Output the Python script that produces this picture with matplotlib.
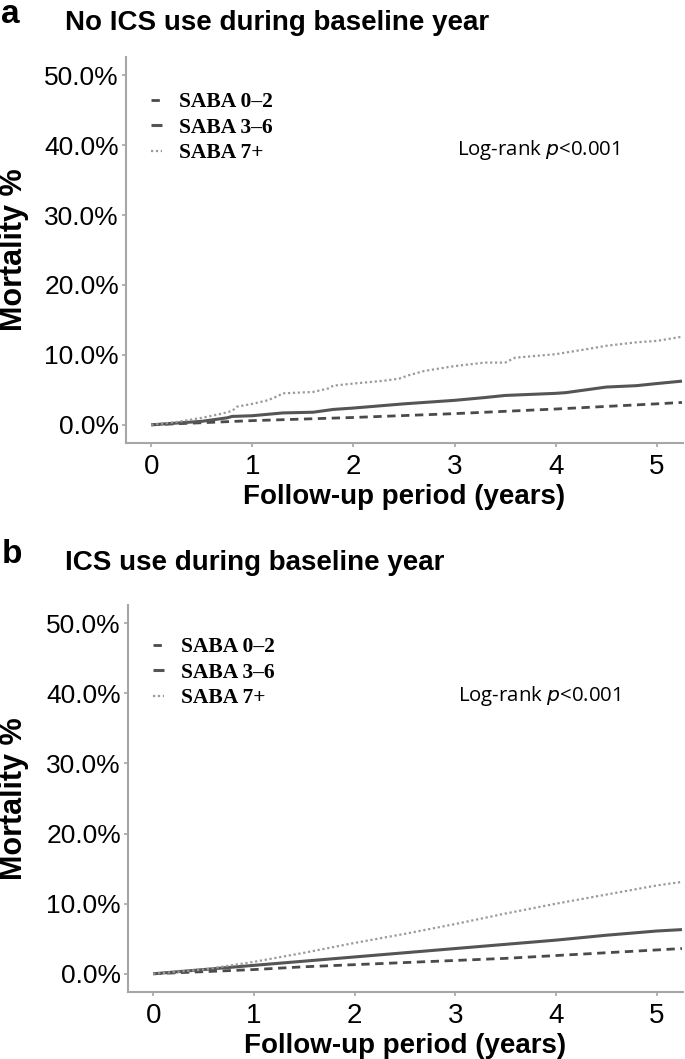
import matplotlib
matplotlib.use("Agg")
import matplotlib.pyplot as plt
from matplotlib.font_manager import FontProperties

# ---------------- data ----------------
panel_letters = ["a", "b"]
panel_titles = ["No ICS use during baseline year", "ICS use during baseline year"]
series_labels = ["SABA 0\u20132", "SABA 3\u20136", "SABA 7+"]
y_ticks = [0, 10, 20, 30, 40, 50]
y_ticklabels = ["0.0%", "10.0%", "20.0%", "30.0%", "40.0%", "50.0%"]
x_ticks = [0, 1, 2, 3, 4, 5]
x_label = "Follow-up period (years)"
y_label = "Mortality %"
annot = "Log-rank $p$<0.001"

# panel a (no ICS)
a_t_low = [0, 0.5, 1, 2, 3, 4, 5, 5.25]
a_v_low = [0, 0.3, 0.6, 1.05, 1.6, 2.26, 3.0, 3.2]
a_t_mid = [0, 0.5, 0.75, 0.8, 1.0, 1.3, 1.6, 1.8, 2.0, 2.5, 3.0, 3.3, 3.5, 4.0, 4.1, 4.5, 4.8, 5.0, 5.25]
a_v_mid = [0, 0.5, 1.0, 1.2, 1.3, 1.7, 1.8, 2.2, 2.4, 3.0, 3.5, 3.9, 4.2, 4.5, 4.6, 5.4, 5.6, 5.9, 6.25]
a_t_high = [0, 0.25, 0.5, 0.7, 0.8, 0.85, 1.0, 1.15, 1.25, 1.3, 1.6, 1.75, 1.8, 2.0, 2.3, 2.45,
            2.55, 2.7, 3.0, 3.3, 3.5, 3.6, 4.0, 4.3, 4.5, 4.8, 5.0, 5.25]
a_v_high = [0, 0.4, 1.0, 1.6, 2.0, 2.6, 3.0, 3.5, 4.1, 4.5, 4.7, 5.2, 5.6, 5.9, 6.3, 6.6,
            7.1, 7.7, 8.4, 8.9, 8.9, 9.6, 10.1, 10.8, 11.3, 11.8, 12.0, 12.6]

# panel b (ICS)
b_t = [0, 0.5, 1, 1.5, 2, 2.5, 3, 3.5, 4, 4.5, 5, 5.25]
b_v_low = [0, 0.3, 0.6, 1.0, 1.3, 1.6, 1.9, 2.2, 2.6, 3.0, 3.4, 3.6]
b_v_mid = [0, 0.6, 1.2, 1.8, 2.4, 3.0, 3.6, 4.2, 4.8, 5.5, 6.1, 6.3]
b_v_high = [0, 0.6, 1.7, 3.0, 4.4, 5.7, 7.1, 8.6, 10.0, 11.3, 12.6, 13.1]

panels = [
    [(a_t_low, a_v_low), (a_t_mid, a_v_mid), (a_t_high, a_v_high)],
    [(b_t, b_v_low), (b_t, b_v_mid), (b_t, b_v_high)],
]

# ---------------- style ----------------
line_styles = [
    dict(color="#4a4a4a", lw=2.0, ls=(0, (3, 2))),
    dict(color="#555555", lw=2.2, ls="-"),
    dict(color="#9a9a9a", lw=1.6, ls=(0, (1, 1.2))),
]
sans = "Liberation Sans"
spine_col = "#a6a6a6"

fig = plt.figure(figsize=(6.85, 10.59), dpi=100)

axes_rects = [
    [126 / 685, 1 - 443 / 1059, (683 - 126) / 685, (443 - 57) / 1059],
    [128 / 685, 1 - 992 / 1059, (683 - 128) / 685, (992 - 605) / 1059],
]
letter_base = [1 - 23 / 1059, 1 - 563 / 1059]
title_y = [1 - 23 / 1059, 1 - 563 / 1059]
legend_top = [0.909, 0.917]
annot_y = [0.759, 0.766]

legend_font = FontProperties(family="Liberation Serif", weight="bold", size=15.5)

for i, rect in enumerate(axes_rects):
    ax = fig.add_axes(rect)
    for (t, v), st, lab in zip(panels[i], line_styles, series_labels):
        ax.plot(t, v, label=lab, solid_capstyle="butt", dash_capstyle="butt", **st)
    ax.set_xlim(-0.25, 5.26)
    ax.set_ylim(-2.6, 52.6)
    ax.set_xticks(x_ticks)
    ax.set_xticklabels([str(x) for x in x_ticks], fontsize=20, family=sans)
    ax.set_yticks(y_ticks)
    ax.set_yticklabels(y_ticklabels, fontsize=19, family=sans)
    ax.tick_params(axis="both", colors=spine_col, length=3, width=1.2, labelcolor="black")
    ax.tick_params(axis="y", pad=2)
    ax.tick_params(axis="x", pad=5)
    for s in ["top", "right"]:
        ax.spines[s].set_visible(False)
    for s in ["left", "bottom"]:
        ax.spines[s].set_color(spine_col)
        ax.spines[s].set_linewidth(1.5)
    ax.set_xlabel(x_label, fontsize=20, fontweight="bold", family=sans, labelpad=3)
    ax.set_ylabel(y_label, fontsize=22, fontweight="bold", family=sans)
    ax.yaxis.label.set_verticalalignment("center")
    ax.yaxis.set_label_coords((14 - rect[0] * 685) / (rect[2] * 685), 0.5)
    ax.legend(loc="upper left", bbox_to_anchor=(0.045, legend_top[i]), frameon=False,
              prop=legend_font, handlelength=0.5, handletextpad=0.8,
              labelspacing=0.25, borderaxespad=0, borderpad=0)
    ax.text(0.595, annot_y[i], annot, transform=ax.transAxes, fontsize=14.7,
            family="Open Sans", va="center", ha="left")
    fig.text(0.002, letter_base[i], panel_letters[i], fontsize=24, fontweight="bold",
             family=sans, va="baseline", ha="left")
    fig.text(65 / 685, title_y[i], panel_titles[i], fontsize=20, fontweight="bold",
             family=sans, va="center", ha="left")

fig.savefig("out.png", dpi=100, facecolor="white")
